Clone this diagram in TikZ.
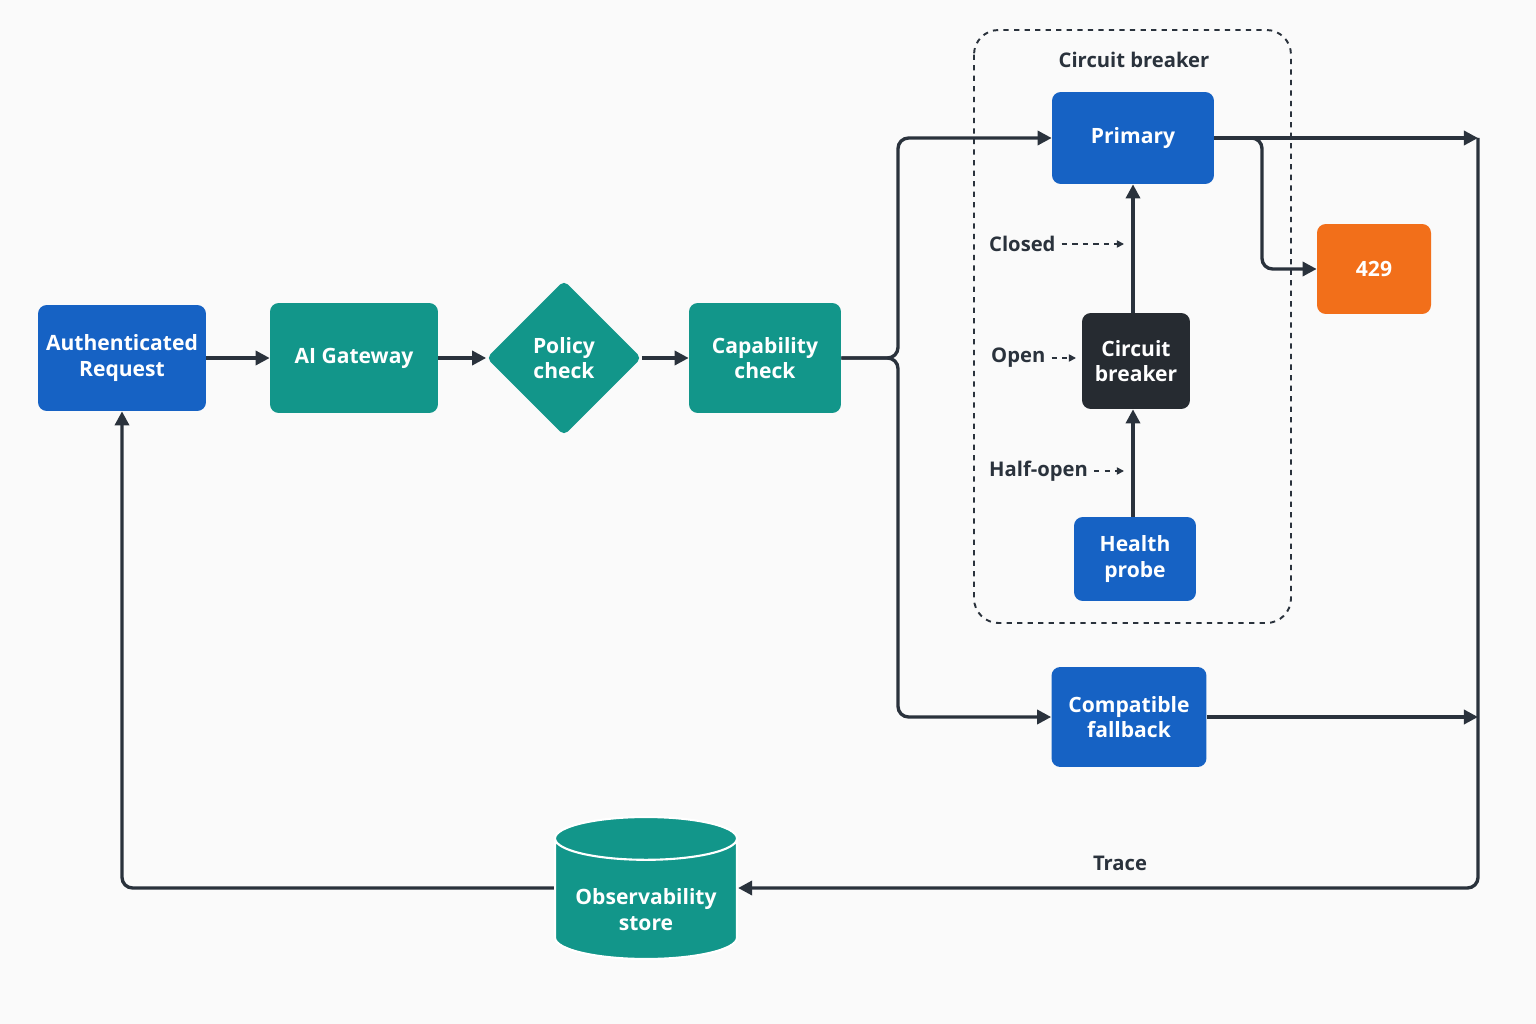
\documentclass[tikz,border=0pt]{standalone}
\usepackage{fontspec}
\setmainfont{Open Sans}
\usepackage{tikz}
\usetikzlibrary{arrows.meta,shapes.geometric,positioning}

\definecolor{gwblue}{HTML}{1662C4}
\definecolor{gwteal}{HTML}{12968A}
\definecolor{gworange}{HTML}{F26F1A}
\definecolor{gwdark}{HTML}{262B31}
\definecolor{gwline}{HTML}{2A323C}
\definecolor{gwbg}{HTML}{FAFAFA}

\tikzset{
  box/.style={rectangle, rounded corners=5pt, text=white, align=center,
    font=\fontsize{12}{14.5}\selectfont\bfseries, inner sep=2pt},
  flow/.style={-{Triangle[length=8pt,width=8pt]}, line width=1.9pt, draw=gwline, rounded corners=6pt},
  hint/.style={-{Triangle[length=4pt,width=4pt]}, dashed, line width=0.9pt, draw=gwline},
  lbl/.style={text=gwline, font=\fontsize{11.5}{14}\selectfont\bfseries}
}

\begin{document}
\begin{tikzpicture}[x=0.02cm, y=-0.02cm]
\fill[gwbg] (0,0) rectangle (1536,1024);

% breaker group
\draw[dashed, line width=1.1pt, gwline, rounded corners=14pt] (974,30) rectangle (1291,623);
\node[lbl] (grouptitle) at (1134,60) {Circuit breaker};

% main nodes
\node[box, fill=gwblue, minimum width=3.36cm, minimum height=2.12cm] (auth) at (122,358) {Authenticated\\Request};
\node[box, fill=gwteal, minimum width=3.36cm, minimum height=2.2cm] (gateway) at (354,358) {AI Gateway};
\node[diamond, fill=gwteal, text=white, align=center, minimum width=3.1cm, minimum height=3.1cm,
  inner sep=0pt, rounded corners=3pt, font=\fontsize{12}{14.5}\selectfont\bfseries] (policy) at (564,358) {Policy\\check};
\node[box, fill=gwteal, minimum width=3.04cm, minimum height=2.2cm] (capability) at (765,358) {Capability\\check};
\node[box, fill=gwblue, minimum width=3.24cm, minimum height=1.84cm] (primary) at (1133,138) {Primary};
\node[box, fill=gworange, minimum width=2.28cm, minimum height=1.8cm] (limit) at (1374,269) {429};
\node[box, fill=gwdark, minimum width=2.16cm, minimum height=1.92cm] (breaker) at (1136,361) {Circuit\\breaker};
\node[box, fill=gwblue, minimum width=2.44cm, minimum height=1.68cm] (probe) at (1135,559) {Health\\probe};
\node[box, fill=gwblue, minimum width=3.1cm, minimum height=2cm] (fallback) at (1129,717) {Compatible\\fallback};
\node[cylinder, shape border rotate=90, aspect=0.28, cylinder uses custom fill,
  cylinder body fill=gwteal, cylinder end fill=gwteal, draw=white, line width=1.2pt,
  minimum width=3.64cm, minimum height=2.84cm, text=white, align=center,
  font=\fontsize{12}{14.5}\selectfont\bfseries] (store) at (646,903) {\\[2pt]Observability\\store};
\coordinate (storein) at (store.east |- 0,888);
\coordinate (storeout) at (store.west |- 0,888);

% state hints
\node[lbl, anchor=west] (closed) at (983,244) {Closed};
\node[lbl, anchor=west] (open) at (985,358) {Open};
\node[lbl, anchor=west] (halfopen) at (983,471) {Half-open};
\coordinate (closedend) at (1124,244);
\coordinate (openend) at (1076,358);
\coordinate (halfend) at (1124,471);
\draw[hint] (closed) -- (closedend);
\draw[hint] (open) -- (openend);
\draw[hint] (halfopen) -- (halfend);

% connectors
\draw[flow] (auth) -- (gateway);
\draw[flow] (gateway) -- (policy);
\draw[flow] (policy) -- (capability);
\draw[flow] (capability.east) -| (898,300) |- (primary.west);
\draw[flow] (capability.east) -| (898,420) |- (fallback.west);
\draw[flow] (probe.north -| primary) -- (breaker.south -| primary);
\draw[flow] (breaker.north -| primary) -- (primary.south);
\draw[flow] (primary.east) -| (1262,200) |- (limit.west);
\coordinate (outtop) at (1478,138);
\coordinate (outlow) at (1478,717);
\draw[flow] (primary.east) -- (outtop);
\draw[flow] (fallback.east) -- (outlow);
\draw[flow] (outtop) |- (storein);
\node[lbl] (trace) at (1120,863) {Trace};
\draw[flow] (storeout) -| (auth.south);
\end{tikzpicture}
\end{document}
